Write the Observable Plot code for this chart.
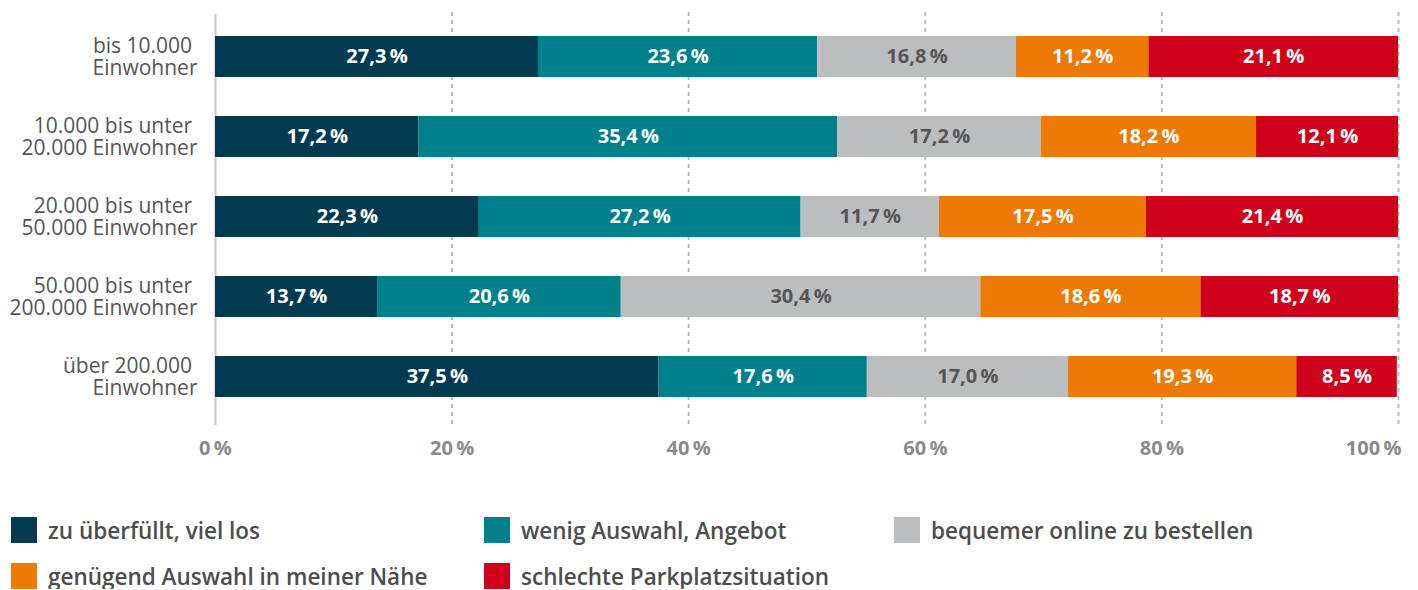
<!DOCTYPE html>
<html>
<head>
<meta charset="utf-8">
<script src="https://cdn.jsdelivr.net/npm/d3@7"></script>
<script src="https://cdn.jsdelivr.net/npm/@observablehq/plot@0.6"></script>
<style>
  body { margin: 0; background: #fff; font-family: "Open Sans", sans-serif; }
  #chart { width: 1418px; }
  .legend { display: grid; grid-template-columns: 473px 410px 400px; row-gap: 20px; padding: 47px 0 0 11px; }
  .item { display: flex; align-items: center; height: 26px; font-weight: 600; font-size: 22.5px; color: #4d4d4d; white-space: nowrap; }
  .sw { width: 26px; height: 26px; margin-right: 11px; flex: none; }
</style>
</head>
<body>
<div id="chart"></div>
<script>
const categories = [
  "bis 10.000 \nEinwohner",
  "10.000 bis unter \n20.000 Einwohner",
  "20.000 bis unter \n50.000 Einwohner",
  "50.000 bis unter \n200.000 Einwohner",
  "über 200.000 \nEinwohner"
];
const seriesNames = [
  "zu überfüllt, viel los",
  "wenig Auswahl, Angebot",
  "bequemer online zu bestellen",
  "genügend Auswahl in meiner Nähe",
  "schlechte Parkplatzsituation"
];
const colors = ["#023a52", "#00808a", "#bcbdbf", "#ec7a05", "#d0021b"];
const labelColors = ["#ffffff", "#ffffff", "#555555", "#ffffff", "#ffffff"];
// values per series, one entry per category
const ueberfuellt = [27.3, 17.2, 22.3, 13.7, 37.5];
const auswahl =     [23.6, 35.4, 27.2, 20.6, 17.6];
const online =      [16.8, 17.2, 11.7, 30.4, 17.0];
const naehe =       [11.2, 18.2, 17.5, 18.6, 19.3];
const parkplatz =   [21.1, 12.1, 21.4, 18.7, 8.5];
const xTicks = [0, 20, 40, 60, 80, 100];

const seriesValues = [ueberfuellt, auswahl, online, naehe, parkplatz];
const rows = [];
categories.forEach((c, i) => {
  let cum = 0;
  seriesValues.forEach((vals, s) => {
    const v = vals[i];
    const x1 = cum, x2 = Math.min(cum + v, 100);
    rows.push({cat: c, series: seriesNames[s], s, value: v, x1, x2, mid: (x1 + x2) / 2});
    cum += v;
  });
});
const fmt = v => v.toFixed(1).replace(".", ",") + "\u2009%";
const tickFmt = d => d + "\u2009%";
const axisStyle = {tickSize: 0, tickPadding: 12, fontSize: 20, fontWeight: 700, color: "#8a8a8a", tickFormat: tickFmt, label: null};

const plot = Plot.plot({
  width: 1418,
  height: 470,
  marginLeft: 215,
  marginRight: 20,
  marginTop: 12,
  marginBottom: 42,
  style: {fontFamily: "'Open Sans', sans-serif", background: "#fff"},
  x: {domain: [0, 100], ticks: xTicks},
  y: {domain: categories, paddingInner: 0.49, paddingOuter: 0.3225, align: 0.44},
  color: {domain: seriesNames, range: colors},
  marks: [
    Plot.ruleX(xTicks.slice(1), {stroke: "#bbbbbb", strokeWidth: 2, strokeDasharray: "4,4"}),
    Plot.ruleX([0], {stroke: "#c8c8c8", strokeWidth: 2, insetTop: 2, insetBottom: 3}),
    Plot.barX(rows, {x1: "x1", x2: "x2", y: "cat", fill: "series"}),
    Plot.text(rows, {x: "mid", y: "cat", text: d => fmt(d.value), fill: d => labelColors[d.s], fontSize: 20, fontWeight: 700}),
    Plot.axisX({...axisStyle, ticks: xTicks.slice(0, -1)}),
    Plot.axisX({...axisStyle, ticks: xTicks.slice(-1), textAnchor: "end", dx: 3}),
    Plot.axisY({tickSize: 0, tickPadding: 18, fontSize: 21, color: "#555555", lineHeight: 1.05, label: null})
  ]
});
document.getElementById("chart").appendChild(plot);

const legend = document.createElement("div");
legend.className = "legend";
seriesNames.forEach((n, i) => {
  const it = document.createElement("div");
  it.className = "item";
  it.innerHTML = `<span class="sw" style="background:${colors[i]}"></span><span>${n}</span>`;
  legend.appendChild(it);
});
document.body.appendChild(legend);
</script>
</body>
</html>
